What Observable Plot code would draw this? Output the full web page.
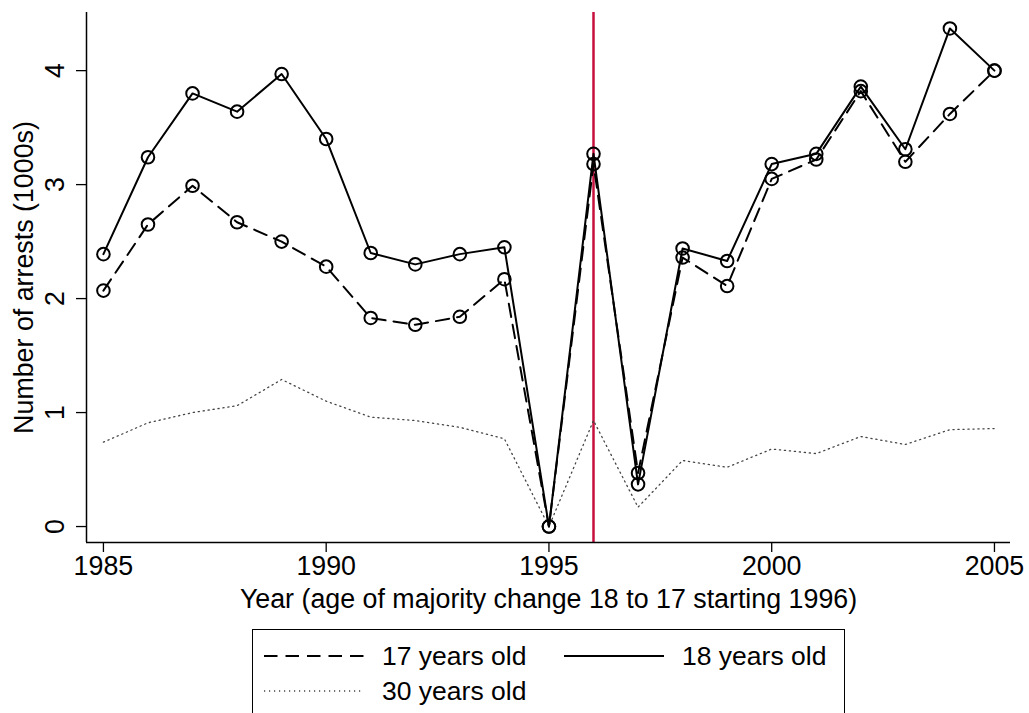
<!DOCTYPE html>
<html>
<head>
<meta charset="utf-8">
<script src="https://cdn.jsdelivr.net/npm/d3@7"></script>
<script src="https://cdn.jsdelivr.net/npm/@observablehq/plot@0.6"></script>
<style>
  html, body { margin: 0; padding: 0; background: #fff; }
  body { width: 1029px; height: 713px; overflow: hidden; position: relative;
         font-family: "Liberation Sans", Arial, Helvetica, sans-serif; }
  #legend { position: absolute; left: 252px; top: 629px; width: 591px; height: 140px;
            border: 1.5px solid #000; box-sizing: content-box; background: #fff; }
  .item { position: absolute; height: 30px; display: flex; align-items: center;
          font-size: 26.5px; color: #000; white-space: nowrap; }
  .item svg { display: block; }
</style>
</head>
<body>
<div id="chart"></div>
<div id="legend"></div>
<script>
// ---- data ----
const years = [1985, 1986, 1987, 1988, 1989, 1990, 1991, 1992, 1993, 1994, 1995,
               1996, 1997, 1998, 1999, 2000, 2001, 2002, 2003, 2004, 2005];
const age17 = [2.07, 2.65, 2.99, 2.67, 2.50, 2.28, 1.83, 1.77, 1.84, 2.17, 0.00,
               3.18, 0.47, 2.36, 2.11, 3.05, 3.22, 3.82, 3.20, 3.62, 4.00];
const age18 = [2.39, 3.24, 3.80, 3.64, 3.97, 3.40, 2.40, 2.30, 2.39, 2.45, 0.00,
               3.27, 0.37, 2.44, 2.33, 3.18, 3.27, 3.86, 3.31, 4.37, 4.00];
const age30 = [0.74, 0.91, 1.00, 1.06, 1.29, 1.10, 0.96, 0.93, 0.87, 0.77, 0.00,
               0.93, 0.17, 0.58, 0.52, 0.68, 0.64, 0.79, 0.72, 0.85, 0.86];
const seriesNames = ["17 years old", "18 years old", "30 years old"];
const xTicks = [1985, 1990, 1995, 2000, 2005];
const yTicks = [0, 1, 2, 3, 4];
const changeYear = [1996];
const xTitle = "Year (age of majority change 18 to 17 starting 1996)";
const yTitle = "Number of arrests (1000s)";

// ---- build tables ----
const rows17 = years.map((y, i) => ({year: y, value: age17[i]}));
const rows18 = years.map((y, i) => ({year: y, value: age18[i]}));
const rows30 = years.map((y, i) => ({year: y, value: age30[i]}));

const xDomain = [1984.62, 2005.36];
const yDomain = [-0.14, 4.51];

const FONT = "'Liberation Sans', Arial, Helvetica, sans-serif";
const FS = 26.8;
const dashed = "13.5,8";
const dotted = "1.2,3.8";
const red = "#c8103e";

const chart = Plot.plot({
  width: 1029,
  height: 625,
  marginLeft: 86,
  marginRight: 19,
  marginTop: 12,
  marginBottom: 83,
  style: {fontSize: FS + "px", fontFamily: FONT, color: "#000", background: "#fff", overflow: "visible"},
  x: {domain: xDomain},
  y: {domain: yDomain},
  marks: [
    Plot.ruleX(changeYear, {stroke: red, strokeWidth: 2.5}),
    Plot.line(rows30, {x: "year", y: "value", stroke: "#444", strokeWidth: 1.3, strokeDasharray: dotted}),
    Plot.line(rows17, {x: "year", y: "value", stroke: "#000", strokeWidth: 2, strokeDasharray: dashed}),
    Plot.line(rows18, {x: "year", y: "value", stroke: "#000", strokeWidth: 2}),
    Plot.dot(rows17, {x: "year", y: "value", r: 6.3, stroke: "#000", strokeWidth: 2, fill: "none"}),
    Plot.dot(rows18, {x: "year", y: "value", r: 6.3, stroke: "#000", strokeWidth: 2, fill: "none"}),
    Plot.ruleX([xDomain[0]], {stroke: "#000", strokeWidth: 1.5}),
    Plot.ruleY([yDomain[0]], {stroke: "#000", strokeWidth: 1.5}),
    Plot.axisX({ticks: xTicks, tickSize: 10, tickPadding: 3, tickFormat: d => String(d), label: null, strokeWidth: 1.3}),
    Plot.axisY({ticks: yTicks, tickSize: 10, tickPadding: 13, tickRotate: -90, tickFormat: d => String(d), label: null, strokeWidth: 1.3}),
    Plot.text([xTitle], {frameAnchor: "bottom", dy: 46, lineAnchor: "top", textAnchor: "middle", fontSize: FS, fill: "#000"}),
    Plot.text([yTitle], {frameAnchor: "left", dx: -73, rotate: -90, lineAnchor: "top", textAnchor: "middle", fontSize: FS, fill: "#000"})
  ]
});
document.getElementById("chart").appendChild(chart);

// ---- legend (HTML below the plot) ----
const legendItems = [
  {name: seriesNames[0], dash: dashed, width: 2, color: "#000", left: 11, top: 11},
  {name: seriesNames[1], dash: null, width: 2, color: "#000", left: 311, top: 11},
  {name: seriesNames[2], dash: dotted, width: 1.3, color: "#444", left: 11, top: 46}
];
const legend = document.getElementById("legend");
for (const it of legendItems) {
  const div = document.createElement("div");
  div.className = "item";
  div.style.left = it.left + "px";
  div.style.top = it.top + "px";
  const sw = d3.create("svg").attr("width", 100).attr("height", 10);
  sw.append("line").attr("x1", 0).attr("x2", 100).attr("y1", 5).attr("y2", 5)
    .attr("stroke", it.color).attr("stroke-width", it.width)
    .attr("stroke-dasharray", it.dash);
  div.appendChild(sw.node());
  const span = document.createElement("span");
  span.style.marginLeft = "18px";
  span.textContent = it.name;
  div.appendChild(span);
  legend.appendChild(div);
}
</script>
</body>
</html>
